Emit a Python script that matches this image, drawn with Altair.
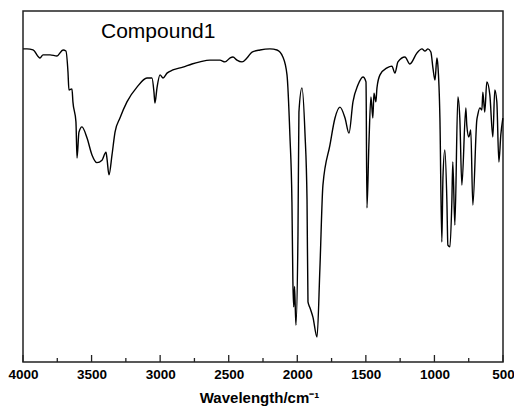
import altair as alt
import pandas as pd

# wavenumber (cm-1) and transmittance (arbitrary %)
wavenumber = [
    3999, 3971, 3927, 3876, 3854, 3803, 3752, 3708, 3687, 3672, 3665, 3643, 3636, 3614, 3606,
    3592, 3570, 3533, 3497, 3461, 3424, 3395, 3388, 3373, 3351, 3329, 3293, 3242, 3169, 3096,
    3060, 3045, 3038, 3023, 3001, 2979, 2950, 2907, 2834, 2768, 2710, 2637, 2564, 2527, 2491,
    2469, 2440, 2403, 2367, 2330, 2272, 2199, 2148, 2105, 2075, 2054, 2039, 2032, 2026, 2020,
    2010, 1995, 1988, 1966, 1944, 1929, 1922, 1907, 1886, 1856, 1835, 1813, 1762, 1725, 1689,
    1652, 1623, 1594, 1558, 1521, 1499, 1492, 1478, 1463, 1449, 1441, 1427, 1419, 1397, 1346,
    1310, 1288, 1266, 1215, 1179, 1128, 1091, 1069, 1047, 1026, 1011, 996, 982, 975, 960,
    946, 938, 924, 909, 902, 887, 873, 866, 851, 829, 815, 800, 771, 764, 749,
    735, 720, 691, 684, 669, 654, 647, 633, 618, 596, 574, 560, 545, 530, 516, 501,
]
transmittance = [
    89.2, 89.2, 88.9, 86.6, 87.5, 87.5, 87.2, 88.9, 88.6, 82.6, 77.5, 77.8, 74.1, 68.4, 58.1,
    65.5, 67.0, 63.8, 59.0, 56.8, 57.5, 59.8, 58.1, 53.3, 59.0, 65.5, 69.5, 74.1, 78.3, 80.9,
    80.9, 76.9, 73.8, 78.1, 81.8, 80.9, 82.3, 83.2, 84.0, 84.9, 85.5, 86.0, 86.0, 85.5, 86.6,
    86.9, 86.0, 85.5, 86.6, 88.3, 88.9, 89.2, 88.9, 86.9, 81.8, 64.7, 45.6, 22.8, 15.7, 21.5,
    10.5, 36.2, 71.2, 78.1, 65.2, 46.2, 17.1, 15.4, 12.8, 7.1, 26.8, 50.4, 61.8, 69.5, 72.6,
    69.5, 65.2, 74.1, 78.9, 81.2, 79.8, 43.9, 61.8, 75.5, 69.5, 76.6, 74.1, 78.1, 81.8, 83.8,
    84.3, 82.3, 85.5, 86.9, 84.9, 88.0, 89.2, 88.6, 89.2, 88.3, 83.8, 80.3, 86.6, 84.6, 69.5,
    34.2, 52.4, 60.4, 45.6, 33.3, 32.8, 45.6, 57.0, 39.0, 75.5, 69.5, 50.4, 72.4, 67.5, 64.1,
    66.1, 44.7, 68.9, 70.4, 72.4, 71.8, 76.9, 71.2, 79.8, 76.1, 64.1, 77.5, 74.1, 57.0, 64.7, 69.5,
]
major_ticks = [4000, 3500, 3000, 2500, 2000, 1500, 1000, 500]
minor_ticks = [3750, 3250, 2750, 2250, 1750, 1250, 750]

W, H = 480, 351

spec = pd.DataFrame({"wn": wavenumber, "T": transmittance, "order": range(len(wavenumber))})
majors = pd.DataFrame({"wn": major_ticks})
minors = pd.DataFrame({"wn": minor_ticks})

xscale = alt.Scale(domain=[500, 4000], reverse=True, nice=False, zero=False)
yscale = alt.Scale(domain=[0, 100], nice=False, zero=False)

line = alt.Chart(spec).mark_line(color="black", strokeWidth=1.4, interpolate="monotone").encode(
    x=alt.X("wn:Q", scale=xscale,
            axis=alt.Axis(values=major_ticks, domain=False, ticks=False, grid=False,
                          labelFont="Liberation Sans", labelFontWeight="bold",
                          labelFontSize=13.5, labelColor="black", labelPadding=5,
                          labelFlush=False, format="d",
                          title="Wavelength/cm⁻¹", titleFont="Liberation Sans",
                          titleFontWeight="bold", titleFontSize=15, titleColor="black",
                          titlePadding=10, titleX=236)),
    y=alt.Y("T:Q", scale=yscale, axis=None),
    order="order:Q",
)

major_rules = alt.Chart(majors).mark_rule(color="#222", strokeWidth=1.3).encode(
    x=alt.X("wn:Q", scale=xscale), y=alt.value(H - 7), y2=alt.value(H)
)
minor_rules = alt.Chart(minors).mark_rule(color="#222", strokeWidth=1.3).encode(
    x=alt.X("wn:Q", scale=xscale), y=alt.value(H - 4), y2=alt.value(H)
)

chart = alt.layer(line, major_rules, minor_rules).properties(
    width=W, height=H,
    background="white",
    title=alt.TitleParams("Compound1", anchor="start", frame="group", orient="top",
                          offset=-29, dx=78, dy=19, baseline="alphabetic",
                          font="Liberation Sans", fontSize=21, fontWeight="normal",
                          color="black"),
    autosize=alt.AutoSizeParams(type="none"),
    padding={"left": 23, "top": 11, "right": 11, "bottom": 48},
).configure_view(stroke="#222", strokeWidth=1.5)

chart.save("out.html", embed_options={"renderer": "svg", "actions": False})
